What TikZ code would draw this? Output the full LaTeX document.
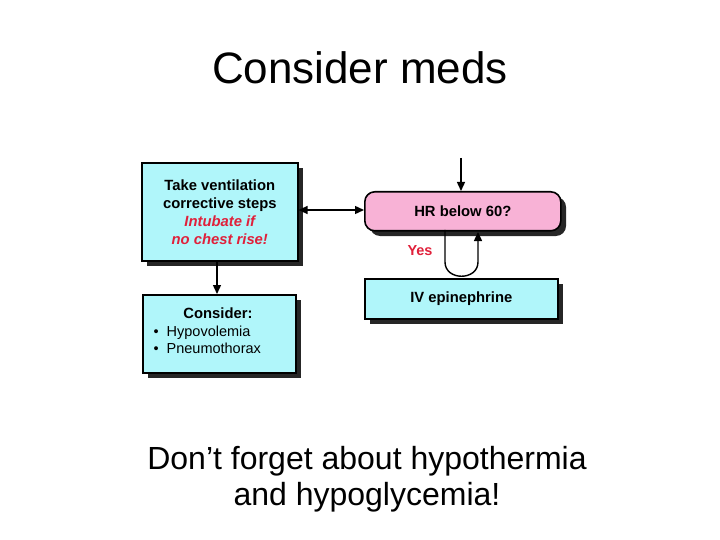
\documentclass[tikz,border=0pt]{standalone}
\usepackage{fontspec}
\setmainfont{Liberation Sans}
\usetikzlibrary{arrows.meta}
\definecolor{boxcyan}{HTML}{B0F6FA}
\definecolor{boxpink}{HTML}{F8B2D6}
\definecolor{txtred}{HTML}{E0203A}
\begin{document}
\begin{tikzpicture}[x=1pt,y=-1pt,
  box/.style={draw=black,line width=1.6pt,fill=boxcyan,font=\bfseries\fontsize{14.8}{18}\selectfont,align=center,inner sep=0pt},
  shad/.style={fill=black!85},
  tip/.tip={Triangle[length=9pt,width=8pt]},
  arr/.style={-tip,line width=1.4pt}]
\useasboundingbox (0,0) rectangle (720,540);
% shadows
\fill[shad] (147,168) rectangle (303,266);
\fill[shad] (148,300) rectangle (301,378);
\fill[shad,rounded corners=10pt] (370,197) rectangle (566,236);
\fill[shad] (370,284) rectangle (563,324);
% boxes
\node[box,minimum width=156pt,minimum height=98pt,anchor=north west] (vent) at (141,162)
  {Take ventilation\\corrective steps\\{\color{txtred}\itshape Intubate if}\\{\color{txtred}\itshape no chest rise!}};
\node[box,minimum width=153pt,minimum height=78pt,anchor=north west] (cons) at (142,294) {};
\node[font=\bfseries\fontsize{14.8}{18}\selectfont] (ct) at (218,313) {Consider:};
\node[font=\fontsize{14.5}{17.5}\selectfont,align=left,anchor=north west] (cl) at (150,322) {•\ \ Hypovolemia\\•\ \ Pneumothorax};
\node[box,fill=boxpink,rounded corners=10pt,minimum width=196pt,minimum height=39pt,anchor=north west] (hr) at (364,191) {HR below 60?};
\node[box,minimum width=193pt,minimum height=40pt,anchor=north west] (iv) at (364,278) {IV epinephrine};
\coordinate (top) at (461,158);
\draw[arr] (top) -- (hr.north -| top);
\draw[tip-tip,line width=1.4pt] (vent.east |- 0,210) -- (hr.west |- 0,210);
\draw[arr] (vent.south -| 217,0) -- (cons.north -| 217,0);
\draw[arr] (445,230) -- (445,262) .. controls (445,281) and (478,281) .. (478,262) -- (478,232);
\node[font=\bfseries\fontsize{14.5}{17}\selectfont,text=txtred] (yes) at (420,251) {Yes};
\node[font=\fontsize{44}{50}\selectfont] (title) at (360,68) {Consider meds};
\node[font=\fontsize{32}{36}\selectfont,align=center] (note) at (367,479) {Don’t forget about hypothermia\\and hypoglycemia!};
\end{tikzpicture}
\end{document}
